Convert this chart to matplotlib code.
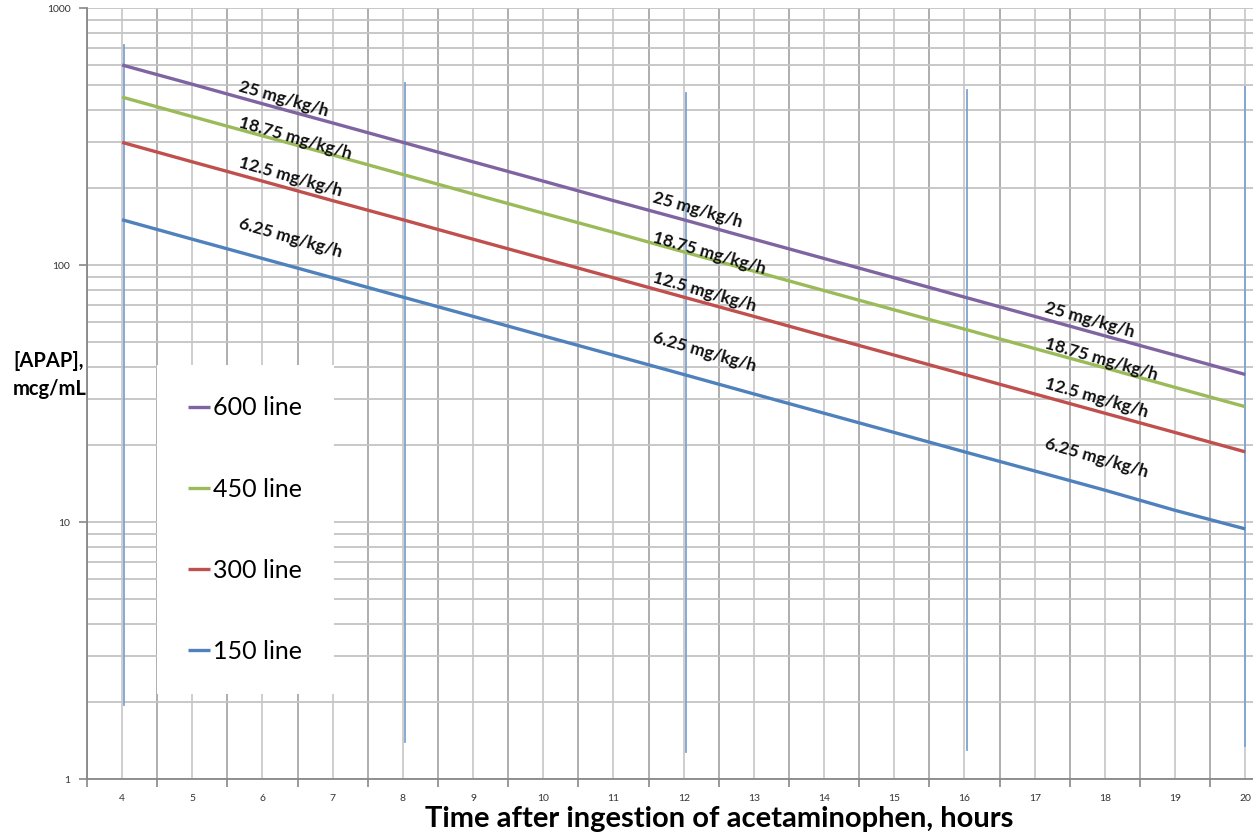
import numpy as np
import matplotlib
matplotlib.use('Agg')
import matplotlib.pyplot as plt
from matplotlib.ticker import FixedLocator, NullFormatter, FixedFormatter

plt.rcParams['font.family'] = ['Lato', 'DejaVu Sans']

# hours after ingestion
hours = [4, 5, 6, 7, 8, 9, 10, 11, 12, 13, 14, 15, 16, 17, 18, 19, 20]

# treatment lines, mcg/mL
line_600 = [600, 505, 424, 357, 300, 252, 212, 178, 150, 126, 106, 89.2, 75, 63.1, 53.0, 44.6, 37.5]
line_450 = [450, 378, 318, 268, 225, 189, 159, 134, 112.5, 94.6, 79.5, 66.9, 56.3, 47.3, 39.8, 33.4, 28.1]
line_300 = [300, 252, 212, 178, 150, 126, 106, 89.2, 75, 63.1, 53.0, 44.6, 37.5, 31.5, 26.5, 22.3, 18.75]
line_150 = [150, 126, 106, 89.2, 75, 63.1, 53.0, 44.6, 37.5, 31.5, 26.5, 22.3, 18.75, 15.8, 13.3, 11.1, 9.4]

series_names = ['600 line', '450 line', '300 line', '150 line']
series_colors = ['#8064A2', '#9BBB59', '#C0504D', '#4F81BD']

# stray thin vertical bars in the original
bar_x = [4.03, 8.03, 12.03, 16.03, 20.0]
bar_top = [718, 511, 467, 480, 493]
bar_bottom = [1.94, 1.39, 1.27, 1.30, 1.34]

rates = ['25 mg/kg/h', '18.75 mg/kg/h', '12.5 mg/kg/h', '6.25 mg/kg/h']
label_x = [5.65, 11.54, 17.13]
label_y = [[475, 344, 241, 139],
           [176, 123, 85.9, 50.2],
           [65.6, 47.5, 33.2, 19.4]]

fig = plt.figure(figsize=(12.53, 8.38), dpi=100)
ax = fig.add_axes([87/1253, 59/838, 1166/1253, 771/838])

ax.set_yscale('log')
ax.set_ylim(1, 1000)
ax.set_xlim(3.5, 20.11)

# grid
for xv in np.arange(3.5, 20.6, 1.0):
    ax.axvline(xv, color='#A8A8A8', lw=1.3, zorder=0)
for xv in range(4, 21):
    ax.axvline(xv, color='#CACACA', lw=1.3, zorder=0)
ax.yaxis.set_minor_locator(FixedLocator([m * 10**d for d in range(3) for m in range(2, 10)]))
ax.grid(True, axis='y', which='both', color='#C4C4C4', lw=1.3, zorder=0)

for xb, yt, yb in zip(bar_x, bar_top, bar_bottom):
    ax.plot([xb, xb], [yb, yt], color='#7FA3D3', lw=1.3, zorder=2)

for vals, name, col in zip([line_600, line_450, line_300, line_150], series_names, series_colors):
    ax.plot(hours, vals, color=col, lw=2.4, label=name, zorder=3, solid_capstyle='butt')

for gx, gy in zip(label_x, label_y):
    for txt, yv in zip(rates, gy):
        ax.text(gx, yv, txt, rotation=-16, rotation_mode='anchor', ha='left', va='baseline',
                fontsize=12.5, fontweight='bold', color='#111111', zorder=4)

# ticks
ax.xaxis.set_major_locator(FixedLocator(np.arange(3.5, 20.6, 1.0)))
ax.xaxis.set_major_formatter(NullFormatter())
ax.xaxis.set_minor_locator(FixedLocator(hours))
ax.xaxis.set_minor_formatter(FixedFormatter([str(h) for h in hours]))
ax.tick_params(axis='x', which='major', length=6, width=1.2, color='#888888')
ax.tick_params(axis='x', which='minor', length=0, labelsize=7.5, labelcolor='#333333', pad=11)
ax.yaxis.set_major_locator(FixedLocator([1, 10, 100, 1000]))
ax.set_yticklabels(['1', '10', '100', '1000'])
ax.yaxis.set_minor_formatter(NullFormatter())
ax.tick_params(axis='y', which='major', length=6, width=1.2, color='#888888', labelsize=7.5,
               labelcolor='#333333', pad=6)
ax.tick_params(axis='y', which='minor', length=0)

for s in ['top', 'right']:
    ax.spines[s].set_visible(False)
for s in ['left', 'bottom']:
    ax.spines[s].set_color('#888888')
    ax.spines[s].set_linewidth(1.3)

leg = ax.legend(loc='upper left', bbox_to_anchor=(70/1166, (779-365)/771),
                fontsize=18, frameon=True, facecolor='white', edgecolor='none', framealpha=1,
                fancybox=False, handlelength=0.85, handletextpad=0.15, labelspacing=2.33,
                borderpad=1.25, borderaxespad=0)
leg.set_zorder(5)
for lh in leg.get_lines():
    lh.set_linewidth(2.4)

fig.text(13/1253, 1 - 375/838, '[APAP],\nmcg/mL', ha='left', va='center', fontsize=14.5,
         fontweight='bold', linespacing=1.45)
fig.text(719/1253, 1 - 819/838, 'Time after ingestion of acetaminophen, hours', ha='center',
         va='center', fontsize=21, fontweight='bold')

fig.savefig('out.png', dpi=100)
